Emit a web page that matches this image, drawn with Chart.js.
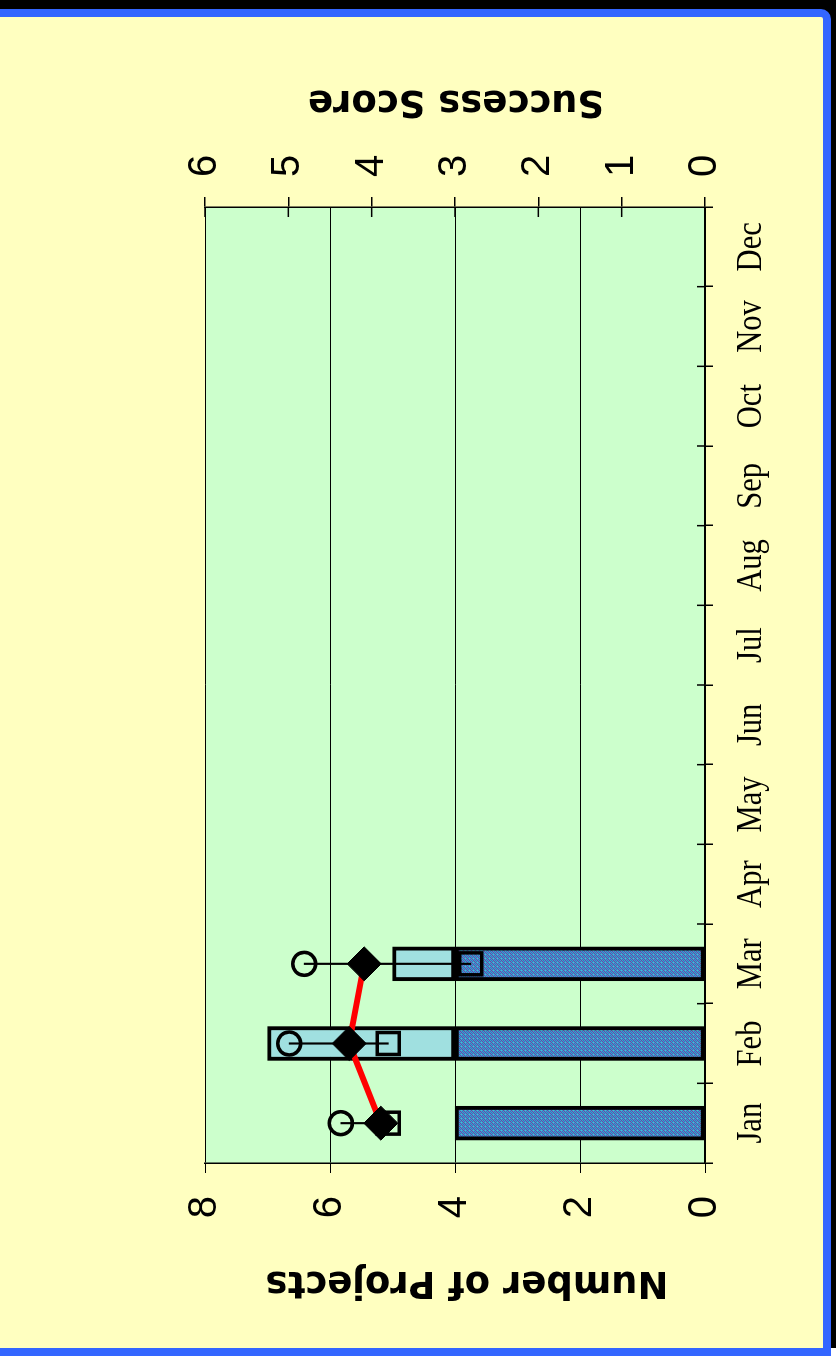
<!DOCTYPE html>
<html><head><meta charset="utf-8">
<script src="https://cdn.jsdelivr.net/npm/chart.js@4.4.1/dist/chart.umd.min.js"></script>
<style>
html,body{margin:0;padding:0;background:#fff;}
body{width:836px;height:1356px;position:relative;overflow:hidden;}
#shadow{position:absolute;left:0;top:0;width:836px;height:1348px;background:#000;}
#frame{position:absolute;left:-20px;top:9px;width:851px;height:1347px;box-sizing:border-box;border:8px solid #3366ff;border-top-right-radius:10px;background:#ffffc0;}
#wrap{position:absolute;left:0;top:0;width:1356px;height:836px;transform-origin:0 0;transform:translate(0,1356px) rotate(-90deg);}
</style></head>
<body>
<div id="shadow"></div><div id="frame"></div>
<div id="wrap"><canvas id="c" width="1356" height="836" style="width:1356px;height:836px"></canvas></div>
<script>
const months = ['Jan','Feb','Mar','Apr','May','Jun','Jul','Aug','Sep','Oct','Nov','Dec'];
const projectsCore  = [4, 4, 4, null, null, null, null, null, null, null, null, null];
const projectsExtra = [null, 3, 1, null, null, null, null, null, null, null, null, null];
const scoreHigh = [4.37, 4.99, 4.81, null, null, null, null, null, null, null, null, null];
const scoreLow  = [3.80, 3.80, 2.81, null, null, null, null, null, null, null, null, null];
const scoreMean = [3.89, 4.27, 4.09, null, null, null, null, null, null, null, null, null];
const projectTicks = [0, 2, 4, 6, 8];
const scoreTicks = [0, 1, 2, 3, 4, 5, 6];
const projectTitle = 'Number of Projects';
const scoreTitle = 'Success Score';

const scoreRange = months.map((m, i) => scoreHigh[i] == null ? null : [scoreLow[i], scoreHigh[i]]);

const canvas = document.getElementById('c');
const ctx0 = canvas.getContext('2d');
function makePattern() {
  const p = document.createElement('canvas');
  p.width = 4; p.height = 4;
  const g = p.getContext('2d');
  const C = '#3aa2cc', P = '#7040a8', B = '#3c6cc0', L = '#44bcd4';
  const grid = [
    [P, C, B, C],
    [C, L, C, P],
    [B, C, P, C],
    [C, P, C, B]
  ];
  for (let r = 0; r < 4; r++) for (let c = 0; c < 4; c++) { g.fillStyle = grid[r][c]; g.fillRect(c, r, 1, 1); }
  return ctx0.createPattern(p, 'repeat');
}
const darkPattern = makePattern();

const decor = {
  id: 'decor',
  beforeDraw(chart) {
    const {ctx, chartArea: a} = chart;
    ctx.save();
    ctx.fillStyle = '#ccffcc';
    ctx.fillRect(a.left, a.top, a.right - a.left, a.bottom - a.top);
    ctx.restore();
  },
  afterDraw(chart) {
    const {ctx, chartArea: a, scales} = chart;
    const x = scales.x, y1 = scales.y1;
    ctx.save();
    ctx.strokeStyle = '#000';
    ctx.lineWidth = 1.5;
    for (let i = 1; i < months.length; i++) {
      const u = x.getPixelForValue(i - 0.5);
      ctx.beginPath(); ctx.moveTo(u, a.bottom - 8); ctx.lineTo(u, a.bottom); ctx.stroke();
    }
    for (const t of scoreTicks) {
      const v = y1.getPixelForValue(t);
      ctx.beginPath(); ctx.moveTo(a.right - 10, v); ctx.lineTo(a.right, v); ctx.stroke();
    }
    ctx.fillStyle = '#000';
    ctx.font = '36px "Liberation Serif", "Times New Roman", serif';
    ctx.textAlign = 'center';
    ctx.textBaseline = 'alphabetic';
    months.forEach((m, i) => {
      const u = x.getPixelForValue(i);
      ctx.save(); ctx.translate(u, a.bottom + 56); ctx.scale(0.85, 1); ctx.fillText(m, 0, 0); ctx.restore();
    });
    ctx.font = 'bold 37px "DejaVu Sans", sans-serif';
    ctx.save(); ctx.translate(84, 467); ctx.rotate(-Math.PI / 2); ctx.fillText(projectTitle, 0, 0); ctx.restore();
    ctx.save(); ctx.translate(1265, 456); ctx.rotate(-Math.PI / 2); ctx.fillText(scoreTitle, 0, 0); ctx.restore();
    ctx.restore();
  }
};

const tickFont = {family: '"Liberation Sans", Arial, sans-serif', size: 40};

new Chart(canvas, {
  data: {
    labels: months,
    datasets: [
      {type: 'line', label: 'Mean', data: scoreMean, yAxisID: 'y1', borderColor: '#ff0000', borderWidth: 6,
       pointStyle: 'rectRot', pointRadius: 17, pointBackgroundColor: '#000', pointBorderColor: '#000',
       pointBorderWidth: 1, tension: 0, spanGaps: false, order: 0},
      {type: 'line', label: 'Low', data: scoreLow, yAxisID: 'y1', showLine: false,
       pointStyle: 'rect', pointRadius: 15.5, pointBorderWidth: 3.5, pointBorderColor: '#000',
       pointBackgroundColor: 'rgba(0,0,0,0)', order: 1},
      {type: 'line', label: 'High', data: scoreHigh, yAxisID: 'y1', showLine: false,
       pointStyle: 'circle', pointRadius: 11.5, pointBorderWidth: 3.5, pointBorderColor: '#000',
       pointBackgroundColor: 'rgba(0,0,0,0)', order: 2},
      {type: 'bar', label: 'Range', data: scoreRange, yAxisID: 'y1', backgroundColor: '#000',
       borderWidth: 0, barThickness: 1.5, order: 3},
      {type: 'bar', label: 'Core', data: projectsCore, yAxisID: 'y', backgroundColor: darkPattern,
       borderColor: '#000', borderWidth: 4, borderSkipped: false, barThickness: 34, order: 4},
      {type: 'bar', label: 'Extra', data: projectsExtra, yAxisID: 'y', backgroundColor: '#a0e0e0',
       borderColor: '#000', borderWidth: 4, borderSkipped: false, barThickness: 34, order: 5}
    ]
  },
  options: {
    responsive: false,
    animation: false,
    devicePixelRatio: 1,
    events: [],
    layout: {autoPadding: false, padding: {top: 205, left: 0, right: 0, bottom: 0}},
    plugins: {legend: {display: false}, tooltip: {enabled: false}},
    scales: {
      x: {
        stacked: true,
        offset: true,
        afterFit: s => { s.height = 131; },
        grid: {offset: true, drawOnChartArea: false, tickLength: 8, color: '#000', lineWidth: 1.5},
        border: {display: true, color: '#000', width: 1.5},
        ticks: {display: false}
      },
      y: {
        position: 'left',
        stacked: true,
        min: projectTicks[0], max: projectTicks[projectTicks.length - 1],
        afterFit: s => { s.width = 193; },
        afterBuildTicks: s => { s.ticks = projectTicks.map(v => ({value: v})); },
        grid: {color: '#000', lineWidth: 1, tickLength: 10},
        border: {display: true, color: '#000', width: 1.5},
        ticks: {font: tickFont, color: '#000', padding: 23}
      },
      y1: {
        position: 'right',
        stacked: false,
        min: scoreTicks[0], max: scoreTicks[scoreTicks.length - 1],
        afterFit: s => { s.width = 207; },
        afterBuildTicks: s => { s.ticks = scoreTicks.map(v => ({value: v})); },
        grid: {drawOnChartArea: false, color: '#000', lineWidth: 1.5, tickLength: 10},
        border: {display: true, color: '#000', width: 1.5},
        ticks: {font: tickFont, color: '#000', padding: 20}
      }
    }
  },
  plugins: [decor]
});
</script>
</body></html>
